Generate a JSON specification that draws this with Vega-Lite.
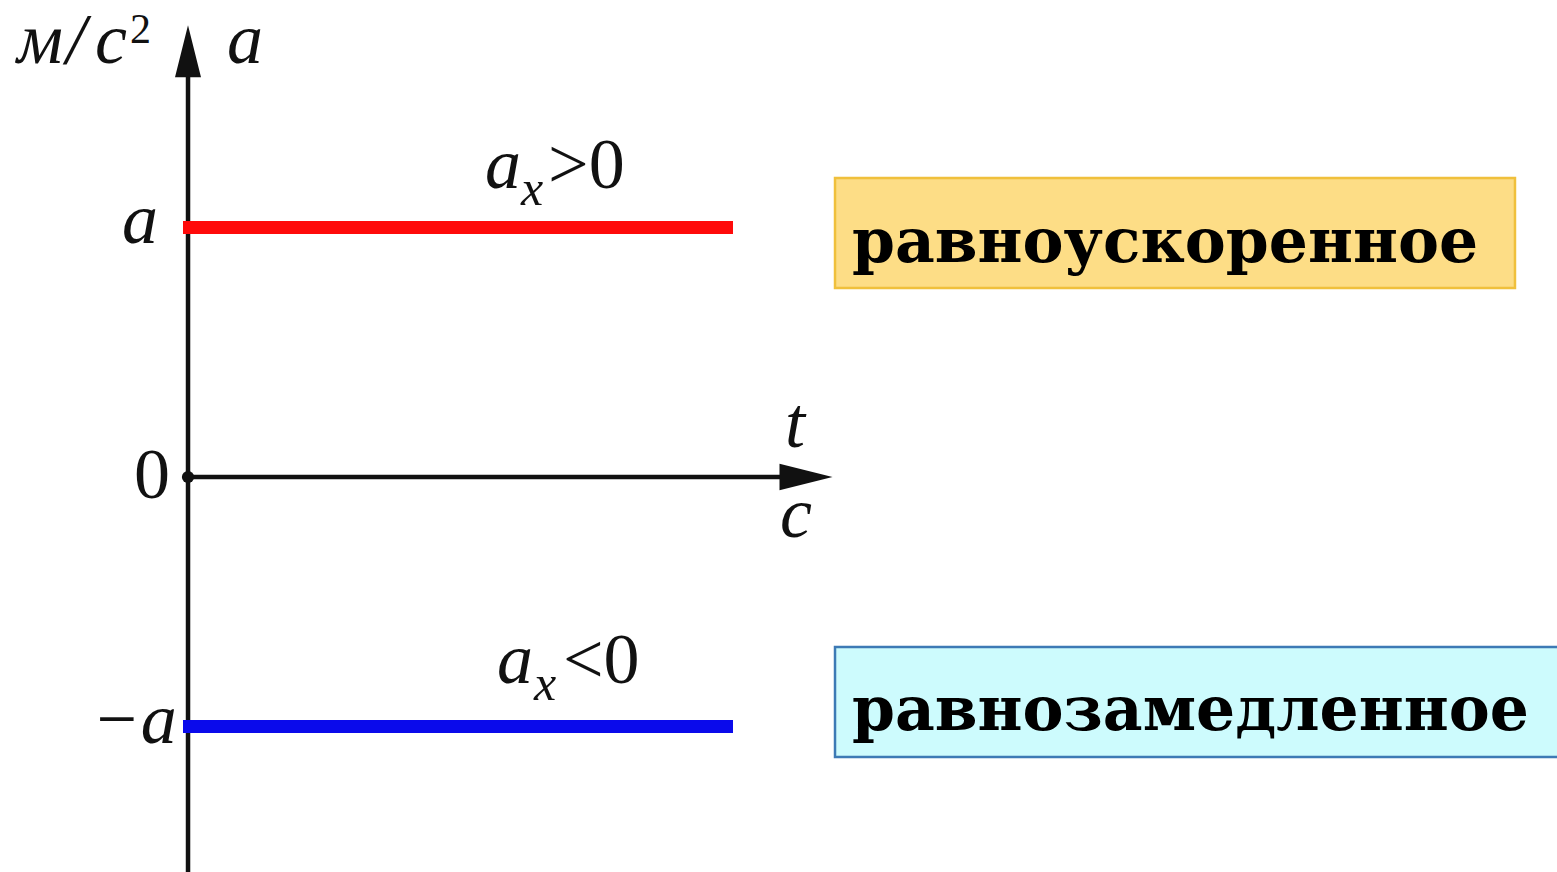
{
  "$schema": "https://vega.github.io/schema/vega-lite/v6.json",
  "width": 1557,
  "height": 872,
  "autosize": {"type": "none"},
  "padding": 0,
  "background": "white",
  "config": {"view": {"stroke": null}},
  "datasets": {
    "boxes": [
      {"name": "accelerated", "t": 1.1872, "t2": 2.4349, "a": 1.1984, "a2": 0.7575},
      {"name": "decelerated", "t": 1.1872, "t2": 2.52, "a": -0.6814, "a2": -1.1222}
    ],
    "segments": [
      {"name": "yaxis", "t": 0, "t2": 0, "a": -1.583, "a2": 1.611},
      {"name": "xaxis", "t": 0, "t2": 1.09, "a": 0, "a2": 0},
      {"name": "positive", "t": -0.0092, "t2": 1.0, "a": 1, "a2": 1},
      {"name": "negative", "t": -0.0092, "t2": 1.0, "a": -1, "a2": -1}
    ],
    "arrows": [
      {"name": "up", "t": 0, "a": 1.707},
      {"name": "right", "t": 1.134, "a": 0}
    ],
    "origin": [{"t": 0, "a": 0}],
    "labels": [
      {"role": "italic", "label": "м", "t": -0.3138, "a": 1.659},
      {"role": "italic", "label": "/", "t": -0.2239, "a": 1.659},
      {"role": "italic", "label": "с", "t": -0.1706, "a": 1.659},
      {"role": "italic", "label": "a", "t": 0.0716, "a": 1.659},
      {"role": "italic", "label": "a", "t": -0.1211, "a": 0.938},
      {"role": "italic", "label": "−a", "t": -0.1761, "a": -1.066},
      {"role": "italic", "label": "t", "t": 1.0954, "a": 0.12},
      {"role": "italic", "label": "с", "t": 1.0862, "a": -0.2405},
      {"role": "italic", "label": "a", "t": 0.545, "a": 1.158},
      {"role": "italic", "label": "a", "t": 0.567, "a": -0.826},
      {"role": "sub", "label": "x", "t": 0.611, "a": 1.09},
      {"role": "sub", "label": "x", "t": 0.635, "a": -0.894},
      {"role": "upright", "label": "0", "t": -0.0991, "a": -0.0842},
      {"role": "upright", "label": ">0", "t": 0.6606, "a": 1.158},
      {"role": "upright", "label": "<0", "t": 0.688, "a": -0.826},
      {"role": "sup", "label": "2", "t": -0.1064, "a": 1.739},
      {"role": "box", "label": "равноускоренное", "t": 1.2183, "a": 0.8617},
      {"role": "box", "label": "равнозамедленное", "t": 1.2183, "a": -1.014}
    ]
  },
  "encoding": {
    "x": {"field": "t", "type": "quantitative", "scale": {"domain": [-0.345, 2.512], "nice": false, "zero": false}, "axis": null},
    "y": {"field": "a", "type": "quantitative", "scale": {"domain": [-1.583, 1.912], "nice": false, "zero": false}, "axis": null}
  },
  "layer": [
    {
      "data": {"name": "boxes"},
      "transform": [{"filter": "datum.name === 'accelerated'"}],
      "mark": {"type": "rect", "fill": "#fddd86", "stroke": "#f0c03c", "strokeWidth": 2.5},
      "encoding": {"x2": {"field": "t2"}, "y2": {"field": "a2"}}
    },
    {
      "data": {"name": "boxes"},
      "transform": [{"filter": "datum.name === 'decelerated'"}],
      "mark": {"type": "rect", "fill": "#cdfbfd", "stroke": "#3d7ab5", "strokeWidth": 2.5},
      "encoding": {"x2": {"field": "t2"}, "y2": {"field": "a2"}}
    },
    {
      "data": {"name": "segments"},
      "transform": [{"filter": "datum.name === 'yaxis' || datum.name === 'xaxis'"}],
      "mark": {"type": "rule", "color": "#111111", "strokeWidth": 4.5},
      "encoding": {"x2": {"field": "t2"}, "y2": {"field": "a2"}}
    },
    {
      "data": {"name": "segments"},
      "transform": [{"filter": "datum.name === 'positive'"}],
      "mark": {"type": "rule", "color": "#ff0a0a", "strokeWidth": 13},
      "encoding": {"x2": {"field": "t2"}, "y2": {"field": "a2"}}
    },
    {
      "data": {"name": "segments"},
      "transform": [{"filter": "datum.name === 'negative'"}],
      "mark": {"type": "rule", "color": "#0a0aeb", "strokeWidth": 13},
      "encoding": {"x2": {"field": "t2"}, "y2": {"field": "a2"}}
    },
    {
      "data": {"name": "arrows"},
      "transform": [{"filter": "datum.name === 'up'"}],
      "mark": {"type": "point", "shape": "M0,-1L0.5,1L-0.5,1Z", "size": 2704, "filled": true, "color": "#111111", "opacity": 1}
    },
    {
      "data": {"name": "arrows"},
      "transform": [{"filter": "datum.name === 'right'"}],
      "mark": {"type": "point", "shape": "M1,0L-1,-0.5L-1,0.5Z", "size": 2809, "filled": true, "color": "#111111", "opacity": 1}
    },
    {
      "data": {"name": "origin"},
      "mark": {"type": "circle", "size": 150, "color": "#111111", "opacity": 1}
    },
    {
      "data": {"name": "labels"},
      "transform": [{"filter": "datum.role === 'italic'"}],
      "mark": {"type": "text", "font": "Liberation Serif", "fontStyle": "italic", "fontSize": 72, "align": "left", "baseline": "alphabetic", "color": "#111111"},
      "encoding": {"text": {"field": "label"}}
    },
    {
      "data": {"name": "labels"},
      "transform": [{"filter": "datum.role === 'sub'"}],
      "mark": {"type": "text", "font": "Liberation Serif", "fontStyle": "italic", "fontSize": 50, "align": "left", "baseline": "alphabetic", "color": "#111111"},
      "encoding": {"text": {"field": "label"}}
    },
    {
      "data": {"name": "labels"},
      "transform": [{"filter": "datum.role === 'upright'"}],
      "mark": {"type": "text", "font": "Liberation Serif", "fontSize": 72, "align": "left", "baseline": "alphabetic", "color": "#111111"},
      "encoding": {"text": {"field": "label"}}
    },
    {
      "data": {"name": "labels"},
      "transform": [{"filter": "datum.role === 'sup'"}],
      "mark": {"type": "text", "font": "Liberation Serif", "fontSize": 42, "align": "left", "baseline": "alphabetic", "color": "#111111"},
      "encoding": {"text": {"field": "label"}}
    },
    {
      "data": {"name": "labels"},
      "transform": [{"filter": "datum.role === 'box'"}],
      "mark": {"type": "text", "font": "DejaVu Serif", "fontWeight": "bold", "fontSize": 61.5, "align": "left", "baseline": "alphabetic", "color": "#000000"},
      "encoding": {"text": {"field": "label"}}
    }
  ]
}
